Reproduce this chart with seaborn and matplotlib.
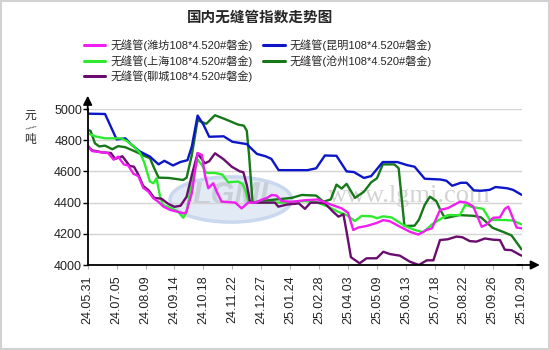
import matplotlib
matplotlib.use("Agg")
import matplotlib.pyplot as plt
import seaborn as sns
import pandas as pd
from matplotlib.patches import Ellipse, Rectangle

# ---------------- data (x in tick-interval units) ----------------
tick_labels = ["24.05.31", "24.07.05", "24.08.09", "24.09.14", "24.10.18", "24.11.22",
               "24.12.27", "25.01.24", "25.02.28", "25.04.03", "25.05.09", "25.06.13",
               "25.07.18", "25.08.22", "25.09.26", "25.10.29"]

name_wf = "无缝管(潍坊108*4.520#磐金)"
name_km = "无缝管(昆明108*4.520#磐金)"
name_sh = "无缝管(上海108*4.520#磐金)"
name_cz = "无缝管(沧州108*4.520#磐金)"
name_lc = "无缝管(聊城108*4.520#磐金)"

x_km = [0, 0.6, 1.0, 1.3, 1.52, 1.8, 2.15, 2.45, 2.65, 2.95, 3.2, 3.45, 3.6, 3.8, 4.0, 4.2,
        4.7, 5.0, 5.5, 5.85, 6.15, 6.35, 6.6, 7.6, 7.9, 8.2, 8.6, 8.95, 9.2, 9.55, 9.8, 10.2,
        10.7, 11.05, 11.3, 11.65, 12.2, 12.4, 12.6, 12.9, 13.1, 13.35, 13.6, 13.9, 14.1,
        14.5, 14.7, 15.0]
y_km = [4970, 4968, 4805, 4812, 4770, 4728, 4695, 4645, 4668, 4638, 4660, 4672, 4760, 4958,
        4900, 4822, 4825, 4790, 4775, 4712, 4697, 4680, 4608, 4608, 4620, 4702, 4700, 4600,
        4596, 4558, 4570, 4660, 4660, 4640, 4630, 4553, 4548, 4540, 4508, 4527, 4527, 4478,
        4476, 4482, 4500, 4492, 4482, 4450]

x_cz = [0, 0.1, 0.25, 0.4, 0.6, 0.85, 1.05, 1.3, 1.65, 1.95, 2.15, 2.3, 2.45, 2.8, 3.3,
        3.42, 3.6, 3.8, 3.9, 4.1, 4.4, 4.75, 5.2, 5.4, 5.5, 5.58, 5.7, 6.0, 6.5, 7.05, 7.4,
        7.9, 8.15, 8.4, 8.6, 8.78, 8.95, 9.24, 9.55, 9.8, 10.0, 10.2, 10.6, 10.75, 10.95,
        11.3, 11.45, 11.65, 11.83, 12.05, 12.2, 12.35, 12.85, 13.35, 13.6, 14.0, 14.35,
        14.65, 15.0]
y_cz = [4865, 4860, 4780, 4760, 4765, 4742, 4762, 4755, 4727, 4700, 4685, 4620, 4560, 4558,
        4545, 4560, 4705, 4930, 4920, 4905, 4960, 4935, 4900, 4893, 4860, 4700, 4400, 4410,
        4420, 4430, 4449, 4445, 4406, 4420, 4515, 4490, 4520, 4430, 4470, 4530, 4556, 4645,
        4645, 4620, 4250, 4252, 4290, 4385, 4438, 4410, 4350, 4300, 4320, 4315, 4305, 4238,
        4213, 4190, 4100]

x_sh = [0, 0.25, 0.6, 1.15, 1.35, 1.6, 1.8, 1.95, 2.05, 2.15, 2.27, 2.38, 2.5, 2.6, 2.9,
        3.13, 3.3, 3.42, 3.6, 3.8, 3.95, 4.1, 4.4, 4.65, 4.86, 5.2, 5.35, 5.45, 5.55, 5.72,
        6.8, 7.5, 7.86, 8.3, 8.67, 8.95, 9.24, 9.47, 9.82, 10.0, 10.22, 10.5, 10.97, 11.3,
        11.6, 11.9, 12.15, 12.45, 12.87, 13.05, 13.33, 13.67, 13.9, 14.45, 14.7, 15.0]
y_sh = [4845, 4825, 4812, 4812, 4795, 4760, 4720, 4660, 4598, 4535, 4524, 4556, 4440, 4385,
        4363, 4342, 4303, 4340, 4535, 4675, 4640, 4590, 4590, 4580, 4530, 4535, 4520, 4480,
        4410, 4400, 4400, 4410, 4405, 4375, 4340, 4320, 4282, 4315, 4312, 4300, 4312, 4305,
        4250, 4225, 4210, 4260, 4290, 4320, 4320, 4385, 4370, 4360, 4290, 4288, 4285, 4260]

x_wf = [0, 0.15, 0.5, 0.7, 0.9, 1.05, 1.25, 1.4, 1.58, 1.75, 1.92, 2.1, 2.27, 2.45, 2.62,
        2.85, 3.3, 3.4, 3.6, 3.8, 3.95, 4.05, 4.17, 4.34, 4.46, 4.63, 5.1, 5.32, 5.55, 5.8,
        6.0, 6.2, 6.36, 6.53, 6.7, 7.05, 7.5, 7.95, 8.37, 8.78, 9.0, 9.18, 9.35, 9.64, 10.0,
        10.22, 10.45, 10.79, 11.14, 11.43, 11.72, 11.9, 12.18, 12.46, 12.87, 13.1, 13.33,
        13.62, 13.79, 14.02, 14.25, 14.42, 14.54, 14.7, 14.83, 15.0]
y_wf = [4768, 4730, 4722, 4718, 4675, 4695, 4645, 4638, 4585, 4570, 4495, 4470, 4428, 4404,
        4374, 4353, 4332, 4335, 4460, 4718, 4705, 4577, 4492, 4524, 4470, 4406, 4400, 4363,
        4400, 4400, 4417, 4430, 4449, 4445, 4410, 4405, 4415, 4420, 4390, 4363, 4335, 4224,
        4240, 4250, 4270, 4288, 4280, 4246, 4213, 4195, 4225, 4235, 4353, 4365, 4406, 4400,
        4375, 4245, 4260, 4303, 4305, 4360, 4374, 4300, 4240, 4235]

x_lc = [0, 0.15, 0.5, 0.8, 0.95, 1.2, 1.45, 1.6, 1.75, 1.92, 2.1, 2.3, 2.55, 2.8, 3.0, 3.21,
        3.42, 3.6, 3.8, 4.05, 4.2, 4.4, 4.69, 4.98, 5.26, 5.38, 5.5, 5.61, 5.72, 6.47, 6.59,
        6.9, 7.3, 7.51, 7.7, 7.97, 8.2, 8.49, 8.67, 8.84, 8.95, 9.1, 9.4, 9.64, 9.99, 10.22,
        10.45, 10.79, 11.14, 11.45, 11.72, 11.95, 12.18, 12.45, 12.75, 12.95, 13.21, 13.44,
        13.73, 14.02, 14.25, 14.42, 14.65, 14.94, 15.0]
y_lc = [4761, 4735, 4722, 4718, 4680, 4697, 4635, 4630, 4580, 4506, 4480, 4430, 4425, 4390,
        4373, 4380, 4438, 4577, 4716, 4652, 4665, 4716, 4679, 4630, 4600, 4595, 4513, 4406,
        4400, 4400, 4374, 4388, 4395, 4360, 4399, 4400, 4395, 4340, 4310, 4325, 4213, 4050,
        4011, 4043, 4043, 4085, 4070, 4060, 4021, 4000, 4030, 4030, 4160, 4165, 4182, 4178,
        4153, 4150, 4170, 4162, 4160, 4098, 4095, 4065, 4060]

colors = {name_wf: "#f01ef0", name_km: "#0c16c8", name_sh: "#2eea2e",
          name_cz: "#17781a", name_lc: "#6a0d6e"}

# ---------------- frame ----------------
frames = []
for name, xs, ys in [(name_cz, x_cz, y_cz), (name_km, x_km, y_km), (name_sh, x_sh, y_sh),
                     (name_lc, x_lc, y_lc), (name_wf, x_wf, y_wf)]:
    frames.append(pd.DataFrame({"t": xs, "price": ys, "series": name}))
df = pd.concat(frames, ignore_index=True)

sns.set_style("white")
plt.rcParams["font.family"] = ["Liberation Sans", "Noto Sans CJK SC", "DejaVu Sans"]

fig = plt.figure(figsize=(5.5, 3.5), dpi=100)
fig.patch.set_facecolor("white")
fig.patches.append(Rectangle((0.001, 0.002), 0.997, 0.995, transform=fig.transFigure,
                             fill=False, edgecolor="#d2d2d2", linewidth=1.5))

ax = fig.add_axes([87.7 / 550, 85 / 350, 433.9 / 550, 156 / 350])

# watermark
ax.add_patch(Ellipse((0.33, 0.42), 0.28, 0.29, transform=ax.transAxes, facecolor="#e2eaf5",
                     edgecolor="#c9d8ee", linewidth=2.5, zorder=0))
ax.text(0.33, 0.44, "LGMI", transform=ax.transAxes, ha="center", va="center",
        fontsize=22, fontweight="bold", style="italic", color="#c9cfd8", zorder=0.5)
ax.text(0.74, 0.44, "www.lgmi.com", transform=ax.transAxes, ha="center", va="center",
        fontsize=19, family="Liberation Serif", color="#d3d3d3", zorder=0.5)

hue_order = [name_cz, name_km, name_sh, name_lc, name_wf]
sns.lineplot(data=df, x="t", y="price", hue="series", hue_order=hue_order, palette=colors,
             estimator=None, sort=False, linewidth=1.7, ax=ax, legend=True)
for ln in ax.lines:
    ln.set_solid_joinstyle("round")
    ln.set_solid_capstyle("round")

ax.set_xlim(0, 15)
ax.set_ylim(4000, 5000)
ax.set_xlabel("")
ax.set_ylabel("")
ax.set_xticks(range(len(tick_labels)))
ax.set_xticklabels(tick_labels, rotation=90, fontsize=9, color="#222222")
ax.set_yticks([4000, 4200, 4400, 4600, 4800, 5000])
ax.tick_params(axis="y", labelsize=9, length=3.5, width=1, color="black", pad=0.5,
               left=True, labelcolor="#222222")
ax.tick_params(axis="x", length=3, width=0.8, color="#b0b0b0", pad=4.5, bottom=True)
ax.yaxis.grid(True, color="#d4d4d4", linewidth=1)
ax.xaxis.grid(False)
ax.set_axisbelow(True)
for s in ["top", "right"]:
    ax.spines[s].set_visible(False)
for s in ["left", "bottom"]:
    ax.spines[s].set_color("black")
    ax.spines[s].set_linewidth(1.3)
    ax.spines[s].set_zorder(5)

# axis arrows
ax.annotate("", xy=(0, 1.085), xytext=(0, 0.99), xycoords="axes fraction",
            arrowprops=dict(arrowstyle="-|>", color="black", lw=1.3, mutation_scale=13,
                            shrinkA=0, shrinkB=0), annotation_clip=False)
ax.annotate("", xy=(1.042, 0), xytext=(0.99, 0), xycoords="axes fraction",
            arrowprops=dict(arrowstyle="-|>", color="black", lw=1.3, mutation_scale=13,
                            shrinkA=0, shrinkB=0), annotation_clip=False)

# legend
ax.get_legend().remove()
order = [name_wf, name_sh, name_lc, name_km, name_cz]
leg_handles = [plt.Line2D([], [], color=colors[n], linewidth=2.2) for n in order]
fig.legend(leg_handles, order, loc="upper left", bbox_to_anchor=(84 / 550, 1 - 39.5 / 350),
           ncol=2, frameon=False, fontsize=8, handlelength=1.9, handletextpad=0.45,
           columnspacing=1.0, labelspacing=0.34, borderpad=0, borderaxespad=0)

# title and unit
fig.text(260 / 550, 1 - 17 / 350, "国内无缝管指数走势图", ha="center", va="center",
         fontsize=10.5, fontweight="bold", family=["Noto Sans CJK SC", "DejaVu Sans"])
cjk = ["Noto Sans CJK SC", "DejaVu Sans"]
fig.text(30 / 550, 1 - 115 / 350, "元", ha="center", va="center", fontsize=8.5, family=cjk)
fig.text(30 / 550, 1 - 127 / 350, "/", ha="center", va="center", fontsize=7, family=cjk,
         rotation=-60)
fig.text(30 / 550, 1 - 139 / 350, "吨", ha="center", va="center", fontsize=8.5, family=cjk)

fig.savefig("out.png", dpi=100, facecolor="white")
